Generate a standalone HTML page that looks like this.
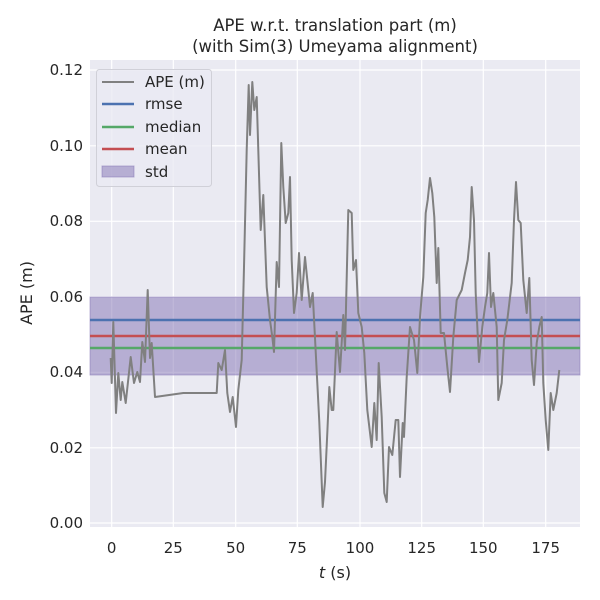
<!DOCTYPE html>
<html><head><meta charset="utf-8"><style>body{margin:0;background:#fff}svg{display:block}</style></head><body>
<svg width="600" height="600" xmlns="http://www.w3.org/2000/svg" font-family="DejaVu Sans, Liberation Sans, sans-serif">
<rect x="90" y="60" width="490" height="467" fill="#eaeaf2"/>
<g stroke="#fff" stroke-width="1.2">
<line x1="111.7" y1="60" x2="111.7" y2="527"/><line x1="173.3" y1="60" x2="173.3" y2="527"/><line x1="235.7" y1="60" x2="235.7" y2="527"/><line x1="297.3" y1="60" x2="297.3" y2="527"/><line x1="360" y1="60" x2="360" y2="527"/><line x1="421.7" y1="60" x2="421.7" y2="527"/><line x1="483.3" y1="60" x2="483.3" y2="527"/><line x1="545.7" y1="60" x2="545.7" y2="527"/>
<line x1="90" y1="70" x2="580" y2="70"/><line x1="90" y1="145.8" x2="580" y2="145.8"/><line x1="90" y1="221.3" x2="580" y2="221.3"/><line x1="90" y1="296.8" x2="580" y2="296.8"/><line x1="90" y1="372.3" x2="580" y2="372.3"/><line x1="90" y1="447.8" x2="580" y2="447.8"/><line x1="90" y1="523" x2="580" y2="523"/>
</g>
<rect x="90" y="297" width="490" height="78" fill="#8172b3" fill-opacity="0.5" stroke="#8172b3" stroke-opacity="0.5"/>
<line x1="90" y1="320" x2="580" y2="320" stroke="#4c72b0" stroke-width="2.5"/>
<line x1="90" y1="348" x2="580" y2="348" stroke="#55a868" stroke-width="2.5"/>
<line x1="90" y1="336" x2="580" y2="336" stroke="#c44e52" stroke-width="2.5"/>
<polyline fill="none" stroke="#808080" stroke-width="2" stroke-linejoin="round" points="110.7,358 111.7,383 113.3,322 116,413 118.3,373 120.7,400 122.3,382 125.7,403 130.7,357 134,383 137.3,372 140,382 142.3,342 145,362 147.7,290 150,358 151.7,343 155,397 183.3,393 216.7,393 218.3,363 221.7,370 225,350 227.3,393 230,412 232.7,397 236,427 238.3,390 241.7,360 244,267 246.7,150 248.7,85 250,135 252.3,82 254.3,110 256.7,97 260.7,230 263.3,195 266.7,287 270,320 272.3,337 274,352 276.7,262 279,287 281.3,143 283.3,187 285.7,223 288.3,213 290,177 291.7,260 294,313 296.7,293 299,253 301.7,300 305,257 310,307 312.7,293 319.3,422 322.7,507 325,482 327.3,433 329.3,387 331.7,410 333.3,410 336.7,332 340,372 343.3,315 345,350 348.3,210 351.7,213 353.3,270 356,260 358.3,313 361.7,327 364.3,353 367.3,410 371.7,447 374.3,403 376.7,440 378.7,363 381.7,417 384.3,493 386.7,502 389,447 392.3,455 395.7,420 398.3,420 400,477 402.7,423 404,437 406.7,377 410,327 414,340 417.3,373 420,317 423.3,277 425.7,213 427.7,200 430,178 432.3,193 434.3,217 436.7,283 438.3,248 440.7,333 444,333 447.3,367 450,392 453.3,337 456.7,300 461.7,290 465,273 467.7,260 470,237 471.7,187 474,220 475.7,293 479,362 482.3,327 485,307 487.3,293 489,253 491,307 493.3,293 496.7,327 498.3,400 501.7,383 504,340 507.3,320 511.7,283 514,220 516,182 518.3,220 520.7,223 523.3,280 526.7,313 529.3,278 531.7,360 534,385 536.7,343 539.3,327 541.7,317 543.3,383 545.7,420 548.3,450 550.7,393 553.3,410 556.7,393 559.3,370"/>
<g font-size="15" fill="#262626" text-anchor="end">
<text x="83" y="75">0.12</text><text x="83" y="151">0.10</text><text x="83" y="226">0.08</text><text x="83" y="302">0.06</text><text x="83" y="377">0.04</text><text x="83" y="453">0.02</text><text x="83" y="528">0.00</text>
</g>
<g font-size="15" fill="#262626" text-anchor="middle">
<text x="111.7" y="553">0</text><text x="173.3" y="553">25</text><text x="235.7" y="553">50</text><text x="297.3" y="553">75</text><text x="360" y="553">100</text><text x="421.7" y="553">125</text><text x="483.3" y="553">150</text><text x="545.7" y="553">175</text>
<text x="335" y="578" font-size="16"><tspan font-style="italic">t</tspan> (s)</text>
<text x="335" y="31" font-size="16.5">APE w.r.t. translation part (m)</text>
<text x="335" y="52" font-size="16.5">(with Sim(3) Umeyama alignment)</text>
</g>
<text transform="translate(32,293) rotate(-90)" font-size="16" fill="#262626" text-anchor="middle">APE (m)</text>
<rect x="96.5" y="69.5" width="115" height="117" rx="3" fill="#eaeaf2" fill-opacity="0.8" stroke="#d0d0d8"/>
<g stroke-width="2.5"><line x1="102" y1="82" x2="134" y2="82" stroke="#808080" stroke-width="2"/><line x1="102" y1="104" x2="134" y2="104" stroke="#4c72b0"/><line x1="102" y1="127" x2="134" y2="127" stroke="#55a868"/><line x1="102" y1="149" x2="134" y2="149" stroke="#c44e52"/></g>
<rect x="102" y="166" width="32" height="11" fill="#8172b3" fill-opacity="0.5" stroke="#8172b3" stroke-opacity="0.5"/>
<g font-size="15" fill="#262626"><text x="145" y="87">APE (m)</text><text x="145" y="109">rmse</text><text x="145" y="132">median</text><text x="145" y="154">mean</text><text x="145" y="177">std</text></g>
</svg>
</body></html>
